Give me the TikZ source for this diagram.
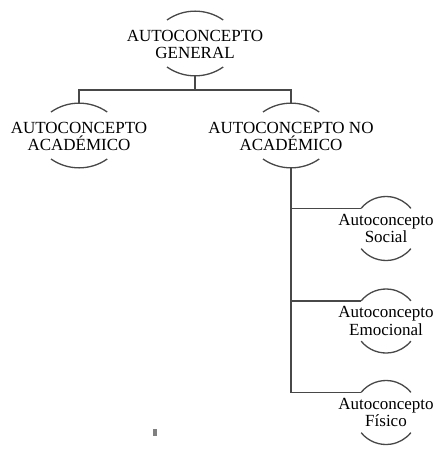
\documentclass[tikz,border=0pt]{standalone}
\usepackage{fontspec}
\setmainfont{Liberation Serif}
\definecolor{ln}{RGB}{72,72,72}
\begin{document}
\begin{tikzpicture}[x=1pt,y=1pt,
  lbl/.style={align=center, inner sep=0pt, font=\fontsize{17}{17}\selectfont},
  sublbl/.style={align=center, inner sep=0pt, font=\fontsize{17}{17.5}\selectfont},
  con/.style={draw=ln, line width=1.3pt},
  brk/.style={draw=ln, line width=1.3pt}]
\fill[white] (0,0) rectangle (434,-463);
\useasboundingbox (0,0) rectangle (434,-463);

% main nodes
\node[lbl] (g) at (195,-44) {AUTOCONCEPTO\\GENERAL};
\node[lbl] (a) at (79,-136) {AUTOCONCEPTO\\ACADÉMICO};
\node[lbl] (n) at (291,-136) {AUTOCONCEPTO NO\\ACADÉMICO};
% sub nodes
\node[sublbl] (s) at (386,-228.5) {Autoconcepto\\Social};
\node[sublbl] (e) at (386,-321) {Autoconcepto\\Emocional};
\node[sublbl] (f) at (386,-412.5) {Autoconcepto\\Físico};

% bracket arcs of main nodes
\foreach \m in {g,a,n}{
  \draw[brk] ([shift={(-28,24)}]\m.center) arc[start angle=125,end angle=55,radius=49];
  \draw[brk] ([shift={(-28,-23)}]\m.center) arc[start angle=235,end angle=305,radius=49];
  \coordinate (\m t) at ([yshift=33]\m.center);
  \coordinate (\m b) at ([yshift=-32]\m.center);
}
% bracket arcs of sub nodes
\foreach \m in {s,e,f}{
  \draw[brk] (\m.center) ++(141:32) arc[start angle=141,end angle=39,radius=32];
  \draw[brk] (\m.center) ++(219:32) arc[start angle=219,end angle=321,radius=32];
  \coordinate (\m l) at ([shift={(141:32)}]\m.center);
}

% connectors
\coordinate (j) at ([yshift=-14]gb);
\draw[con] (gb) -- (j);
\draw[con] (at) |- (j) -| (nt);
\draw[con] (nb) |- (sl);
\draw[con] (nb) |- (el);
\draw[con] (nb) |- (fl);

% small mark
\fill[gray] (153,-429) rectangle (157,-436);
\end{tikzpicture}
\end{document}
